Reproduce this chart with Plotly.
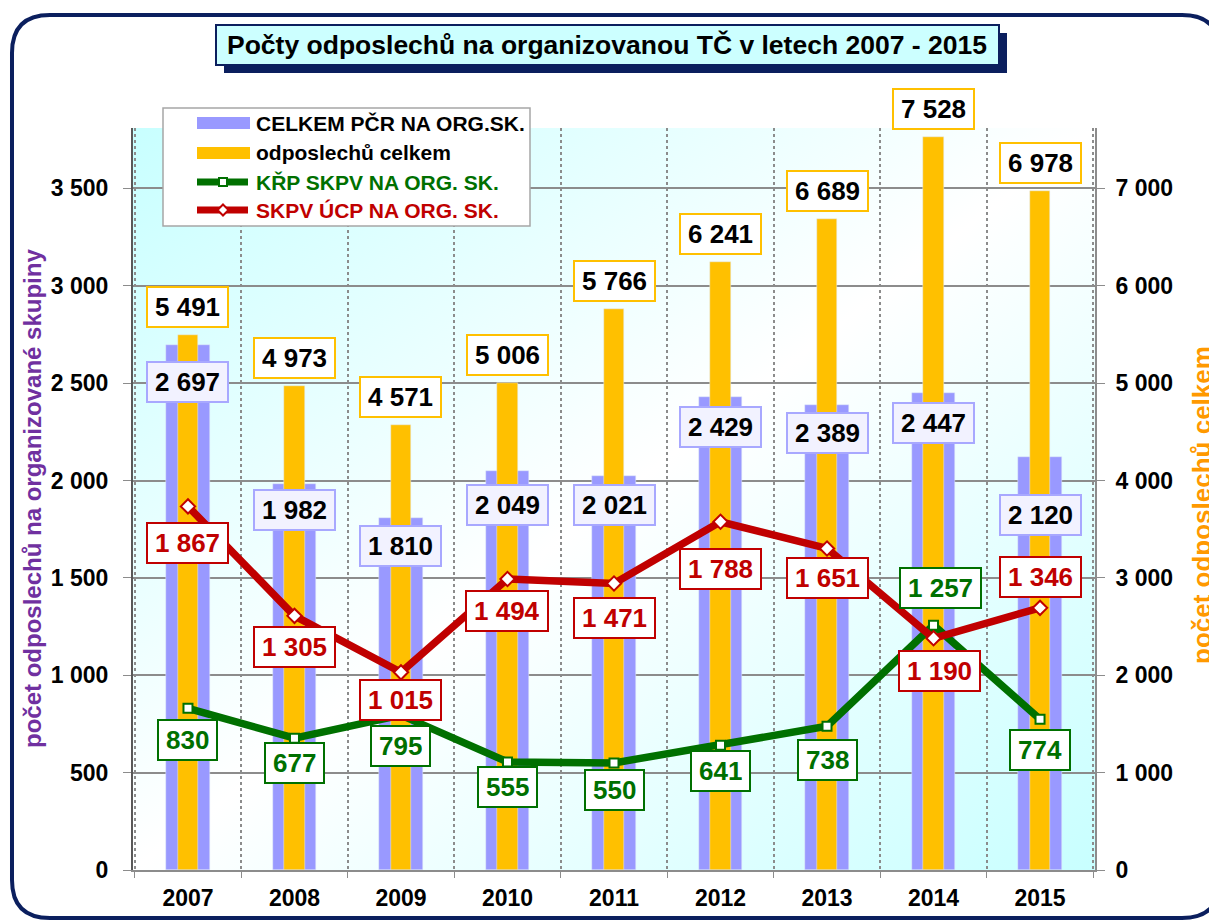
import base64
import plotly.graph_objects as go

# ---------------- data ----------------
years = ["2007", "2008", "2009", "2010", "2011", "2012", "2013", "2014", "2015"]
celkem_pcr = [2697, 1982, 1810, 2049, 2021, 2429, 2389, 2447, 2120]          # left axis bars
odposlechu_celkem = [5491, 4973, 4571, 5006, 5766, 6241, 6689, 7528, 6978]  # right axis bars
krp_skpv = [830, 677, 795, 555, 550, 641, 738, 1257, 774]                   # green line
skpv_ucp = [1867, 1305, 1015, 1494, 1471, 1788, 1651, 1190, 1346]           # red line

names = ["CELKEM PČR NA ORG.SK.", "odposlechů celkem", "KŘP SKPV NA ORG. SK.", "SKPV ÚCP NA ORG. SK."]
title_text = "Počty odposlechů na organizovanou TČ v letech 2007 - 2015"
left_title = "počet odposlechů na organizované skupiny"
right_title = "počet odposlechů celkem"
left_ticks = [0, 500, 1000, 1500, 2000, 2500, 3000, 3500]
right_ticks = [0, 1000, 2000, 3000, 4000, 5000, 6000, 7000]

# label offsets (pixels) – styling only
purple_dy = [-37, -26, -28, -34, -29, -30, -28, -30, -58]
orange_dy = [28] * 9
red_dy = [-37, -31, -28, -32, -34, -47, -30, -33, 31]
green_dy = [-32, -25, -31, -25, -27, -26, -34, 37, -31]
red_dx = [0, 0, 0, 0, 0, 0, 0, 6, 0]
green_dx = [0, 0, 0, 0, 0, 0, 0, 7, 0]

# ---------------- styling ----------------
OFF = 8                      # page body margin of the html page
W, H = 1217 - OFF, 920 - OFF
PL, PR, PT, PB = 133, 1095, 128, 870   # plot area in screen pixels
FONT = "Arial, 'Liberation Sans', sans-serif"
PURPLE = "#9999FF"
ORANGE = "#FFC000"
GREEN = "#007000"
RED = "#C00000"
NAVY = "#0B1F5E"
GRID = "#8C8C8C"


def fx(x):
    return (x - PL) / (PR - PL)


def fy(y):
    return (PB - y) / (PB - PT)


def fmt(v):
    return f"{v:,}".replace(",", " ")


fig = go.Figure()

fig.add_trace(go.Bar(x=years, y=celkem_pcr, name=names[0], marker_color=PURPLE,
                     width=0.41, yaxis="y", showlegend=False))
fig.add_trace(go.Bar(x=years, y=odposlechu_celkem, name=names[1], marker_color=ORANGE,
                     width=0.19, yaxis="y2", showlegend=False))
fig.add_trace(go.Scatter(x=years, y=krp_skpv, name=names[2], mode="lines+markers", yaxis="y3",
                         line=dict(color=GREEN, width=7.5),
                         marker=dict(symbol="square", size=9, color="white",
                                     line=dict(color=GREEN, width=2)), showlegend=False))
fig.add_trace(go.Scatter(x=years, y=skpv_ucp, name=names[3], mode="lines+markers", yaxis="y3",
                         line=dict(color=RED, width=7.5),
                         marker=dict(symbol="diamond", size=11, color="white",
                                     line=dict(color=RED, width=2)), showlegend=False))

annotations = []


def label(i, y, yref, text, color, border, bg, dy, dx=0):
    # category axis annotations use the category index
    annotations.append(dict(
        x=i, y=y, xref="x", yref=yref, text=f"<b>{text}</b>", showarrow=False,
        xanchor="center", yanchor="middle", yshift=dy, xshift=dx,
        font=dict(family=FONT, size=26, color=color),
        bgcolor=bg, bordercolor=border, borderwidth=2, borderpad=7, height=24))


for i, yr in enumerate(years):
    label(i, celkem_pcr[i], "y", fmt(celkem_pcr[i]), "black", "#A8A8FF", "#F2F2FF", purple_dy[i])
    label(i, odposlechu_celkem[i], "y2", fmt(odposlechu_celkem[i]), "black", ORANGE, "white", orange_dy[i])
    label(i, skpv_ucp[i], "y3", fmt(skpv_ucp[i]), RED, RED, "white", red_dy[i], red_dx[i])
    label(i, krp_skpv[i], "y3", fmt(krp_skpv[i]), GREEN, GREEN, "white", green_dy[i], green_dx[i])

# ---------------- decorations ----------------
shapes = []


def rrect_path(x0, y0, x1, y1, r):
    X = lambda v: f"{fx(v):.5f}"
    Y = lambda v: f"{fy(v):.5f}"
    return (f"M {X(x0 + r)},{Y(y0)} L {X(x1 - r)},{Y(y0)} Q {X(x1)},{Y(y0)} {X(x1)},{Y(y0 + r)} "
            f"L {X(x1)},{Y(y1 - r)} Q {X(x1)},{Y(y1)} {X(x1 - r)},{Y(y1)} "
            f"L {X(x0 + r)},{Y(y1)} Q {X(x0)},{Y(y1)} {X(x0)},{Y(y1 - r)} "
            f"L {X(x0)},{Y(y0 + r)} Q {X(x0)},{Y(y0)} {X(x0 + r)},{Y(y0)} Z")


# outer rounded frame
shapes.append(dict(type="path", xref="paper", yref="paper", path=rrect_path(12, 15, 1220, 918, 38),
                   line=dict(color=NAVY, width=4), fillcolor="rgba(0,0,0,0)", layer="above"))
# title box shadow + box
shapes.append(dict(type="rect", xref="paper", yref="paper", x0=fx(224), x1=fx(1007), y0=fy(33), y1=fy(73),
                   line=dict(width=0), fillcolor=NAVY))
shapes.append(dict(type="rect", xref="paper", yref="paper", x0=fx(216), x1=fx(999), y0=fy(25), y1=fy(65),
                   line=dict(color=NAVY, width=2), fillcolor="#CCFFFF"))
annotations.append(dict(x=fx(607), y=fy(45), xref="paper", yref="paper", showarrow=False,
                        text=f"<b>{title_text}</b>", font=dict(family=FONT, size=26.5, color="black"),
                        xanchor="center", yanchor="middle"))

# axis titles
annotations.append(dict(x=fx(32), y=fy(499), xref="paper", yref="paper", showarrow=False, textangle=-90,
                        text=f"<b>{left_title}</b>", font=dict(family=FONT, size=24, color="#7030A0"),
                        xanchor="center", yanchor="middle"))
annotations.append(dict(x=fx(1202), y=fy(505), xref="paper", yref="paper", showarrow=False, textangle=-90,
                        text=f"<b>{right_title}</b>", font=dict(family=FONT, size=26, color="#FF9900"),
                        xanchor="center", yanchor="middle"))

# legend (manual)
shapes.append(dict(type="rect", xref="paper", yref="paper", x0=fx(163), x1=fx(530), y0=fy(108), y1=fy(226),
                   line=dict(color="#A6A6A6", width=1.5), fillcolor="white", layer="above"))
leg_y = [123, 153, 182, 210]
leg_colors = ["black", "black", GREEN, RED]
for c, yy in zip([PURPLE, ORANGE], leg_y[:2]):
    shapes.append(dict(type="rect", xref="paper", yref="paper", x0=fx(197), x1=fx(250),
                       y0=fy(yy - 6), y1=fy(yy + 6), line=dict(width=0), fillcolor=c, layer="above"))
for c, yy, sym in [(GREEN, leg_y[2], "square"), (RED, leg_y[3], "diamond")]:
    shapes.append(dict(type="line", xref="paper", yref="paper", x0=fx(197), x1=fx(248),
                       y0=fy(yy), y1=fy(yy), line=dict(color=c, width=7), layer="above"))
    if sym == "square":
        shapes.append(dict(type="rect", xref="paper", yref="paper", x0=fx(219), x1=fx(227),
                           y0=fy(yy - 4), y1=fy(yy + 4), line=dict(color=c, width=2),
                           fillcolor="white", layer="above"))
    else:
        shapes.append(dict(type="path", xref="paper", yref="paper",
                           path=f"M {fx(223)},{fy(yy - 5.5)} L {fx(228.5)},{fy(yy)} L {fx(223)},{fy(yy + 5.5)} L {fx(217.5)},{fy(yy)} Z",
                           line=dict(color=c, width=2), fillcolor="white", layer="above"))
for nm, c, yy in zip(names, leg_colors, leg_y):
    annotations.append(dict(x=fx(254), y=fy(yy), xref="paper", yref="paper", showarrow=False,
                            text=f"<b>{nm}</b>", font=dict(family=FONT, size=21, color=c),
                            xanchor="left", yanchor="middle"))

# gradient plot background
svg = ('<svg xmlns="http://www.w3.org/2000/svg" width="962" height="742" viewBox="0 0 962 742" '
       'preserveAspectRatio="none"><defs><linearGradient id="g" x1="0" y1="0" x2="1" y2="1">'
       '<stop offset="0" stop-color="#C8FFFF"/><stop offset="0.5" stop-color="#FFFFFF"/>'
       '<stop offset="1" stop-color="#C8FFFF"/></linearGradient></defs>'
       '<rect width="962" height="742" fill="url(#g)"/></svg>')
bg_src = "data:image/svg+xml;base64," + base64.b64encode(svg.encode()).decode()

tickfont = dict(family=FONT, size=23, color="black", weight="bold")

fig.update_layout(
    width=W, height=H,
    margin=dict(l=PL - OFF, r=W - (PR - OFF), t=PT - OFF, b=H - (PB - OFF), pad=0),
    paper_bgcolor="white", plot_bgcolor="rgba(0,0,0,0)",
    barmode="overlay", bargap=0,
    font=dict(family=FONT, color="black"),
    separators=", ",
    images=[dict(source=bg_src, xref="paper", yref="paper", x=0, y=1, sizex=1, sizey=1,
                 sizing="stretch", layer="below")],
    xaxis=dict(type="category", tickson="boundaries", showgrid=True, gridcolor=GRID,
               griddash="dot", gridwidth=1.5, showline=True, linecolor=GRID, linewidth=2,
               ticks="outside", ticklen=6, tickcolor=GRID, automargin=False, tickangle=0,
               ticklabelstandoff=6,
               tickfont=dict(family=FONT, size=23, color="black", weight="bold")),
    yaxis=dict(range=[0, 3810], tickvals=left_ticks,
               tickformat=",d", showgrid=True, gridcolor=GRID, gridwidth=1.5,
               showline=True, linecolor="#595959", linewidth=2, ticks="outside", ticklen=8,
               tickcolor=GRID, zeroline=False, automargin=False, tickfont=tickfont,
               ticklabelstandoff=10),
    yaxis2=dict(range=[0, 7620], overlaying="y", side="right",
                tickvals=right_ticks, tickformat=",d",
                showgrid=False, showline=True, linecolor=GRID, linewidth=2, ticks="outside",
                ticklen=8, tickcolor=GRID, zeroline=False, automargin=False, tickfont=tickfont,
                ticklabelstandoff=6),
    yaxis3=dict(range=[0, 3810], overlaying="y", visible=False, showgrid=False, zeroline=False),
    annotations=annotations,
    shapes=shapes,
)

fig.write_html("out.html")
